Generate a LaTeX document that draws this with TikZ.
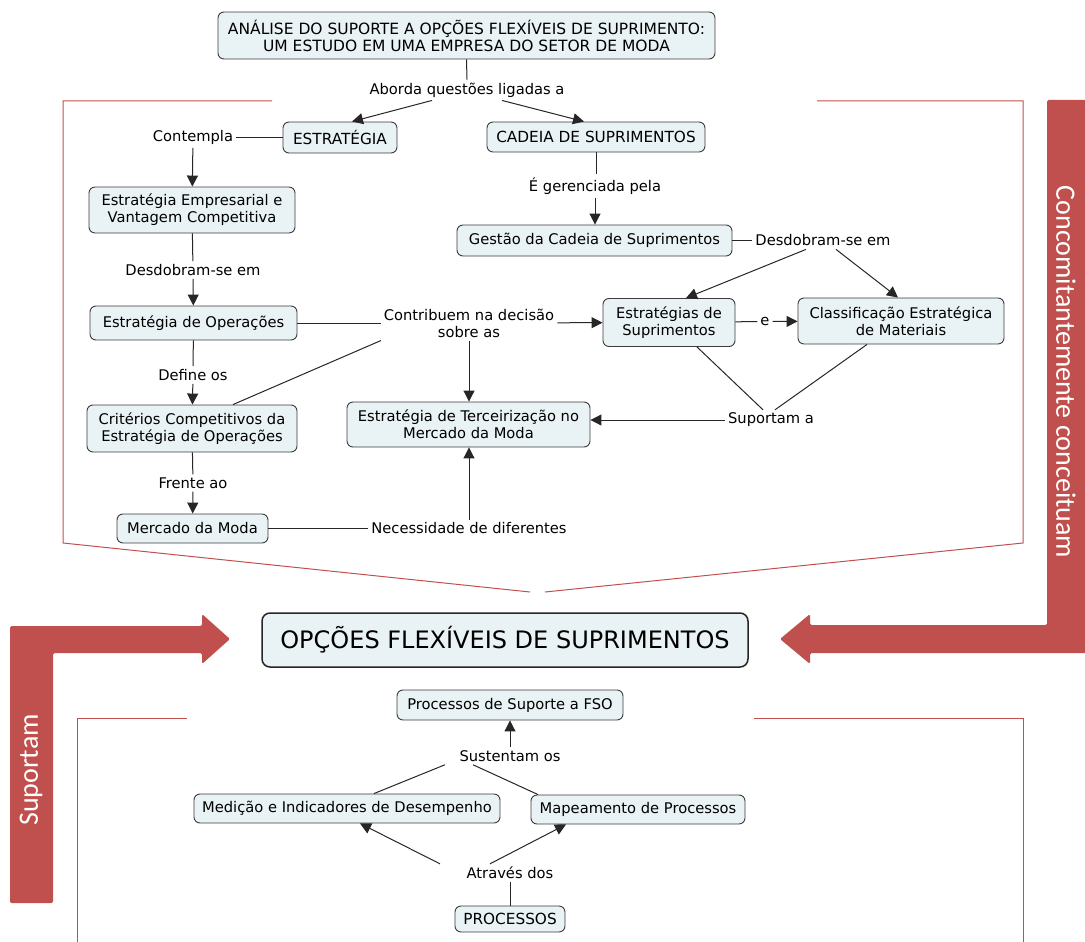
\documentclass[tikz,border=0pt]{standalone}
\usepackage{fontspec}
\setmainfont{DejaVu Sans}
\newfontfamily\bandfont{Carlito}
\usetikzlibrary{arrows.meta}
\definecolor{bandred}{HTML}{C0504D}
\definecolor{boxfill}{HTML}{E9F2F4}
\definecolor{boxline}{HTML}{3C3C3C}

\begin{document}
\begin{tikzpicture}[x=1pt,y=-1pt,
  concept/.style={draw=boxline, fill=boxfill, line width=0.9pt, rounded corners=6pt,
    align=center, inner sep=0pt, font=\fontsize{14.7}{17}\selectfont},
  capsbox/.style={concept, font=\fontsize{15.3}{17}\selectfont},
  linking/.style={align=center, inner sep=3pt, font=\fontsize{14.7}{17}\selectfont},
  link/.style={line width=1pt, draw=black!85},
  flow/.style={link, -{Triangle[length=11pt,width=11pt]}},
  frame/.style={draw=bandred, line width=1pt},
  band/.style={fill=bandred, rounded corners=1.5pt},
  bandtext/.style={text=white, inner sep=0pt, font=\bandfont\fontsize{28}{30}\selectfont}
]
\useasboundingbox (0,0) rectangle (1085,942);

% ---------- red frames ----------
\draw[frame] (272,101) -- (63,101) -- (63,543) -- (530,592);
\draw[frame] (817,101) -- (1023,101) -- (1023,543) -- (545,592);
\draw[frame] (187,718) -- (77,718) -- (77,942);
\draw[frame] (754,718) -- (1023,718) -- (1023,942);

% ---------- red bands with arrow heads ----------
\fill[band] (1090,100) -- (1047,100) -- (1047,625) -- (810,625) -- (810,614) -- (780,639)
  -- (810,664) -- (810,653) -- (1090,653) -- cycle;
\fill[band] (10,903) -- (10,626) -- (202,626) -- (202,614) -- (230,639) -- (202,664)
  -- (202,653) -- (53,653) -- (53,903) -- cycle;
\node[bandtext, rotate=-90] (conc) at (1066,372) {Concomitantemente conceituam};
\node[bandtext, rotate=90] (sup) at (31,770) {Suportam};

% ---------- concepts ----------
\node[capsbox, minimum width=497pt, minimum height=47pt, font=\fontsize{15.5}{17}\selectfont] (title) at (466.5,35.5)
  {ANÁLISE DO SUPORTE A OPÇÕES FLEXÍVEIS DE SUPRIMENTO:\\UM ESTUDO EM UMA EMPRESA DO SETOR DE MODA};
\node[capsbox, minimum width=114pt, minimum height=31pt] (estr) at (340,137.5) {ESTRATÉGIA};
\node[capsbox, minimum width=218pt, minimum height=30pt] (cadeia) at (596,137) {CADEIA DE SUPRIMENTOS};
\node[concept, minimum width=206pt, minimum height=46pt] (empresa) at (192,210)
  {Estratégia Empresarial e\\Vantagem Competitiva};
\node[concept, minimum width=207pt, minimum height=34pt] (oper) at (193.5,323) {Estratégia de Operações};
\node[concept, minimum width=210pt, minimum height=47pt] (crit) at (192,428.5)
  {Critérios Competitivos da\\Estratégia de Operações};
\node[concept, minimum width=151pt, minimum height=29pt] (mercado) at (192.5,528.5) {Mercado da Moda};
\node[concept, minimum width=243pt, minimum height=45pt] (terc) at (468.5,424.5)
  {Estratégia de Terceirização no\\Mercado da Moda};
\node[concept, minimum width=275pt, minimum height=31pt] (gestao) at (594.5,240.5)
  {Gestão da Cadeia de Suprimentos};
\node[concept, minimum width=132pt, minimum height=48pt] (supr) at (669,322.5)
  {Estratégias de\\Suprimentos};
\node[concept, minimum width=206pt, minimum height=46pt] (class) at (901,321)
  {Classificação Estratégica\\de Materiais};

\node[concept, line width=1.5pt, draw=black!85, rounded corners=8pt, minimum width=486pt,
  minimum height=54pt, font=\fontsize{24}{27}\selectfont] (ofs) at (505,640)
  {OPÇÕES FLEXÍVEIS DE SUPRIMENTOS};

\node[concept, minimum width=226pt, minimum height=30pt] (fso) at (510,705) {Processos de Suporte a FSO};
\node[concept, minimum width=306pt, minimum height=29pt] (medicao) at (347,808.5)
  {Medição e Indicadores de Desempenho};
\node[concept, minimum width=214pt, minimum height=29pt] (mapeam) at (638,809.5)
  {Mapeamento de Processos};
\node[capsbox, minimum width=110pt, minimum height=26pt] (processos) at (510,919) {PROCESSOS};

% ---------- linking phrases ----------
\node[linking] (aborda) at (467,90) {Aborda questões ligadas a};
\node[linking] (contempla) at (193,137.5) {Contempla};
\node[linking] (desdob1) at (193,270) {Desdobram-se em};
\node[linking] (define) at (193,375) {Define os};
\node[linking] (frente) at (193,483) {Frente ao};
\node[linking] (contrib) at (469,323) {Contribuem na decisão\\sobre as};
\node[linking] (necess) at (469,528.5) {Necessidade de diferentes};
\node[linking] (gerenc) at (595,186) {É gerenciada pela};
\node[linking] (desdob2) at (823,240.5) {Desdobram-se em};
\node[linking] (e) at (765,321.5) {e};
\node[linking] (suportam) at (771,420) {Suportam a};
\node[linking] (sust) at (510,756) {Sustentam os};
\node[linking] (atraves) at (510,873) {Através dos};

% ---------- connectors ----------
\draw[link] (title.south) -- (aborda.north);
\draw[flow] ([xshift=-35pt]aborda.south) -- ([xshift=12pt]estr.north);
\draw[flow] ([xshift=35pt]aborda.south) -- ([xshift=-12pt]cadeia.north);
\draw[link] (estr) -- (contempla);
\draw[flow] (contempla) -- (empresa);
\draw[link] (empresa) -- (desdob1);
\draw[flow] (desdob1) -- (oper);
\draw[link] (oper) -- (contrib);
\draw[flow] (contrib) -- (supr);
\draw[flow] (contrib.south) -- (contrib.south |- terc.north);
\draw[link] ([xshift=41pt]crit.north) -- ([xshift=-88pt]contrib.south);
\draw[link] (oper) -- (define);
\draw[flow] (define) -- (crit);
\draw[link] (crit) -- (frente);
\draw[flow] (frente) -- (mercado);
\draw[link] (mercado) -- (necess);
\draw[flow] (necess.north) -- (necess.north |- terc.south);
\draw[link] (cadeia.south) -- (cadeia.south |- gerenc.north);
\draw[flow] (gerenc.south) -- (gerenc.south |- gestao.north);
\draw[link] (gestao) -- (desdob2);
\draw[flow] ([xshift=-17pt]desdob2.south) -- ([xshift=17pt]supr.north);
\draw[flow] ([xshift=13pt]desdob2.south) -- ([xshift=-3pt]class.north);
\draw[link] (supr) -- (e);
\draw[flow] (e) -- (class);
\draw[link] ([xshift=28pt]supr.south) -- ([xshift=-8pt]suportam.north);
\draw[link] ([xshift=-34pt]class.south) -- ([xshift=4pt]suportam.north);
\draw[flow] (suportam.west) -- (suportam.west -| terc.east);

\draw[flow] (sust) -- (fso);
\draw[link] ([xshift=27pt]medicao.north) -- ([xshift=-65pt]sust.south);
\draw[link] ([xshift=-100pt]mapeam.north) -- ([xshift=-37pt]sust.south);
\draw[link] (processos) -- (atraves);
\draw[flow] ([xshift=-70pt]atraves.north) -- ([xshift=13pt]medicao.south);
\draw[flow] ([xshift=-20pt]atraves.north) -- ([xshift=-72pt]mapeam.south);
\end{tikzpicture}
\end{document}
